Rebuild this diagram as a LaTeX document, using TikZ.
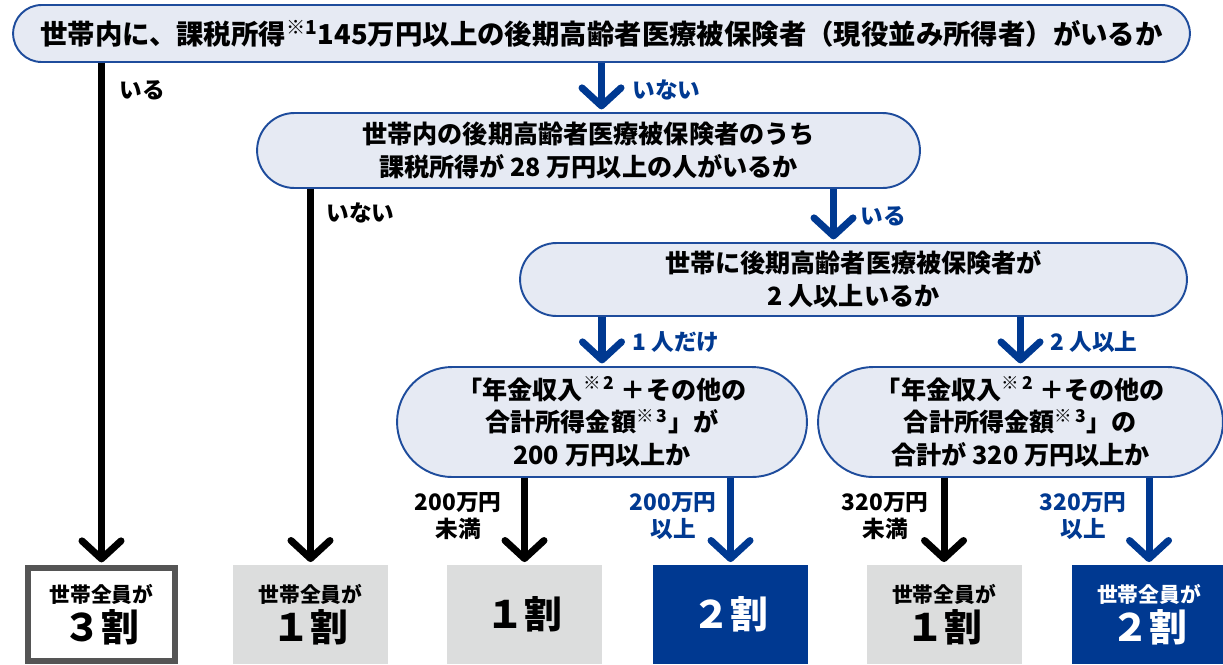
\documentclass[tikz,border=0pt]{standalone}
\usepackage{fontspec}
\setmainfont{Noto Sans CJK JP}
\usepackage{xcolor}
\usepackage{tikz}
\usetikzlibrary{shapes.misc, arrows.meta, calc}
\definecolor{navy}{RGB}{0,57,145}
\definecolor{qfill}{RGB}{230,234,243}
\definecolor{qborder}{RGB}{30,76,156}
\definecolor{grayfill}{RGB}{220,221,221}
\definecolor{frame}{RGB}{85,85,85}
\tikzset{
    question/.style={rounded rectangle, draw=qborder, line width=1.1pt, fill=qfill, align=center, inner sep=0pt, font=\bfseries\fontsize{14.3pt}{18.7pt}\selectfont},
    result/.style={rectangle, minimum width=3.1cm, minimum height=1.98cm, align=center, inner sep=0pt, font=\bfseries},
    lowbox/.style={result, fill=grayfill},
    highbox/.style={result, fill=navy, text=white},
    lbl/.style={font=\bfseries\fontsize{12.9pt}{15.5pt}\selectfont, align=center, inner sep=0pt},
    noarrow/.style={line width=4pt, -{Straight Barb[round, length=0.36cm, width=0.78cm]}, shorten >=1.5pt, black},
    yesarrow/.style={noarrow, navy}
}
\newcommand{\smallline}[1]{{\fontsize{11.8pt}{14pt}\selectfont #1}}
\newcommand{\bigline}[1]{{\fontsize{21.5pt}{24pt}\selectfont #1}}

\begin{document}
\begin{tikzpicture}[x=0.02cm, y=-0.02cm]
    \useasboundingbox (0,0) rectangle (1223,664);

    % Questions
    \node (top) [question, minimum width=23.54cm, minimum height=1.14cm, font=\bfseries\fontsize{15.6pt}{18pt}\selectfont] at (601.5,33.5)
        {世帯内に、課税所得\textsuperscript{※1}145万円以上の後期高齢者医療被保険者（現役並み所得者）がいるか};
    \node (taxed) [question, minimum width=13.26cm, minimum height=1.5cm] at (588.5,150.5)
        {世帯内の後期高齢者医療被保険者のうち\\課税所得が 28 万円以上の人がいるか};
    \node (count) [question, minimum width=13.34cm, minimum height=1.46cm] at (853.5,279.5)
        {世帯に後期高齢者医療被保険者が\\2 人以上いるか};
    \node (single) [question, minimum width=8.2cm, minimum height=2.2cm] at (602,422)
        {「年金収入\textsuperscript{※\,2} ＋その他の\\合計所得金額\textsuperscript{※\,3}」が\\200 万円以上か};
    \node (couple) [question, minimum width=8.1cm, minimum height=2.2cm] at (1020.5,422)
        {「年金収入\textsuperscript{※\,2} ＋その他の\\合計所得金額\textsuperscript{※\,3}」の\\合計が 320 万円以上か};

    % Results
    \node (three) [result, draw=frame, line width=3.4pt, fill=white, minimum width=2.94cm, minimum height=1.86cm] at (101.5,614.5)
        {\smallline{世帯全員が}\\[2pt]\bigline{３割}};
    \node (oneall) [lowbox] at (310.5,614.5) {\smallline{世帯全員が}\\[2pt]\bigline{１割}};
    \node (oneA) [lowbox] at (524.5,614.5) {\bigline{１割}};
    \node (twoA) [highbox] at (730.5,614.5) {\bigline{２割}};
    \node (oneB) [lowbox] at (944,614.5) {\smallline{世帯全員が}\\[2pt]\bigline{１割}};
    \node (twoB) [highbox] at (1149,614.5) {\smallline{世帯全員が}\\[2pt]\bigline{２割}};

    % Labels
    \node (l1) [lbl, anchor=west] at (119,90) {いる};
    \node (l2) [lbl, anchor=west, text=navy] at (632,90) {いない};
    \node (l3) [lbl, anchor=west] at (326,213) {いない};
    \node (l4) [lbl, anchor=west, text=navy] at (860,216) {いる};
    \node (l5) [lbl, anchor=west, text=navy] at (632,342) {1 人だけ};
    \node (l6) [lbl, anchor=west, text=navy] at (1050,342) {2 人以上};
    \node (l7) [lbl] at (458,516) {200万円\\未満};
    \node (l8) [lbl, text=navy] at (673,516) {200万円\\以上};
    \node (l9) [lbl] at (885,516) {320万円\\未満};
    \node (l10) [lbl, text=navy] at (1083,516) {320万円\\以上};

    % Arrows
    \draw [noarrow] (top.south -| three.north) -- (three.north);
    \draw [yesarrow] (top.south) -- (taxed.north -| top.south);
    \draw [noarrow] (taxed.south -| oneall.north) -- (oneall.north);
    \draw [yesarrow] ([xshift=-0.4cm]count.north |- taxed.south) -- ([xshift=-0.4cm]count.north);
    \draw [yesarrow] (count.south -| single.north) -- (single.north);
    \draw [yesarrow] (count.south -| couple.north) -- (couple.north);
    \draw [noarrow] (single.south -| oneA.north) -- (oneA.north);
    \draw [yesarrow] (single.south -| twoA.north) -- (twoA.north);
    \draw [noarrow] (couple.south -| oneB.north) -- (oneB.north);
    \draw [yesarrow] (couple.south -| twoB.north) -- (twoB.north);
\end{tikzpicture}
\end{document}
